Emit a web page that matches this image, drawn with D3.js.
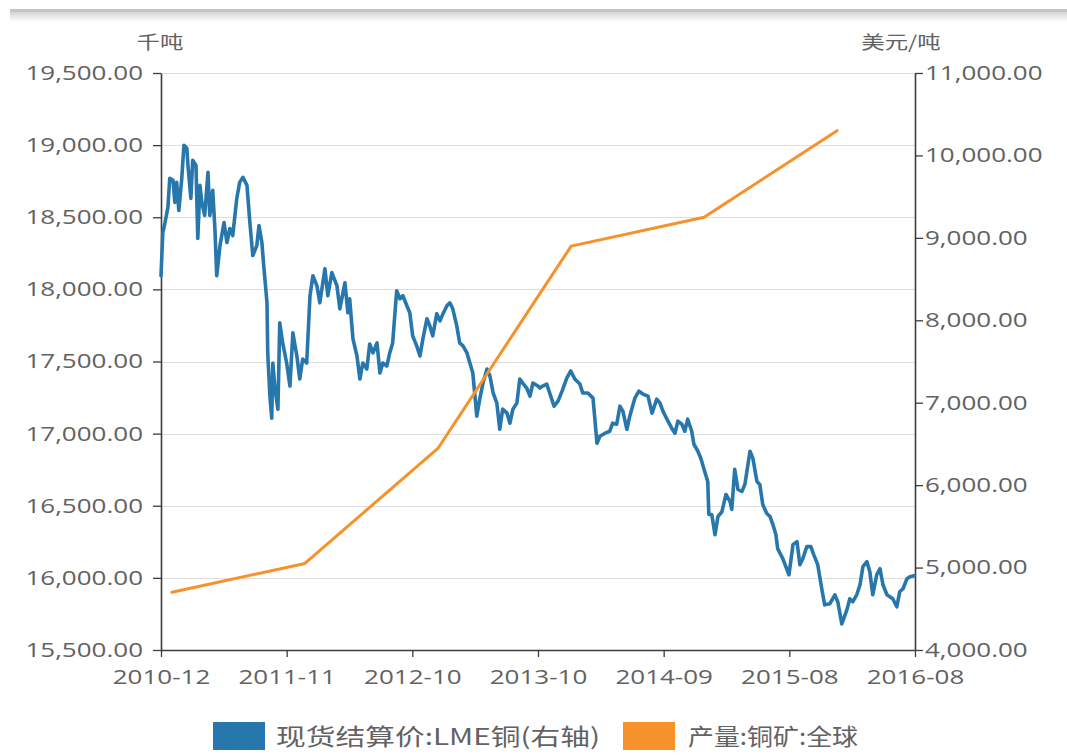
<!DOCTYPE html>
<html>
<head>
<meta charset="utf-8">
<script src="https://cdn.jsdelivr.net/npm/d3@7"></script>
<style>
  html, body { margin: 0; padding: 0; background: #fff; }
  svg { display: block; }
</style>
</head>
<body>
<svg id="chart" width="1067" height="756"></svg>
<script>
// ---- data ----
const leftTicks = [15500, 16000, 16500, 17000, 17500, 18000, 18500, 19000, 19500];
const rightTicks = [4000, 5000, 6000, 7000, 8000, 9000, 10000, 11000];
const xTickLabels = ["2010-12", "2011-11", "2012-10", "2013-10", "2014-09", "2015-08", "2016-08"];

// 产量:铜矿:全球 (千吨), annual
const productionDates = ["2010-12-31", "2011-12-31", "2012-12-31", "2013-12-31", "2014-12-31", "2015-12-31"];
const productionValues = [15900, 16100, 16900, 18300, 18500, 19100];

// 现货结算价:LME铜 (美元/吨)
const priceDates = [
  "2010-12-01","2010-12-06","2010-12-12","2010-12-20","2010-12-25","2011-01-03","2011-01-08","2011-01-13","2011-01-19","2011-01-27",
  "2011-02-02","2011-02-10","2011-02-13","2011-02-21","2011-02-26","2011-03-07","2011-03-12","2011-03-18","2011-03-23","2011-03-31",
  "2011-04-09","2011-04-14","2011-04-22","2011-04-28","2011-05-03","2011-05-12","2011-05-23","2011-05-31","2011-06-08","2011-06-16",
  "2011-06-27","2011-07-05","2011-07-14","2011-07-25","2011-08-02","2011-08-10","2011-08-21","2011-08-27","2011-09-04","2011-09-09",
  "2011-09-18","2011-09-20","2011-09-26","2011-10-01","2011-10-04","2011-10-10","2011-10-18","2011-10-23","2011-10-31","2011-11-11",
  "2011-11-20","2011-11-28","2011-12-09","2011-12-17","2011-12-25","2012-01-05","2012-01-14","2012-01-22","2012-02-02","2012-02-10",
  "2012-02-24","2012-03-03","2012-03-14","2012-03-28","2012-04-05","2012-04-19","2012-04-27","2012-05-02","2012-05-11","2012-05-22",
  "2012-05-30","2012-06-07","2012-06-18","2012-06-26","2012-07-05","2012-07-16","2012-07-24","2012-08-01","2012-08-12","2012-08-20",
  "2012-08-28","2012-09-08","2012-09-17","2012-09-25","2012-10-06","2012-10-14","2012-10-22","2012-11-02","2012-11-11","2012-11-19",
  "2012-11-30","2012-12-08","2012-12-16","2012-12-27","2013-01-05","2013-01-13","2013-01-24","2013-02-01","2013-02-09","2013-02-20",
  "2013-02-28","2013-03-09","2013-03-20","2013-03-28","2013-04-05","2013-04-16","2013-04-24","2013-05-03","2013-05-14","2013-05-22",
  "2013-05-31","2013-06-10","2013-06-18","2013-06-26","2013-07-08","2013-07-16","2013-07-24","2013-08-04","2013-08-12","2013-08-20",
  "2013-08-31","2013-09-09","2013-09-17","2013-10-01","2013-10-06","2013-10-14","2013-10-25","2013-11-03","2013-11-14","2013-11-25",
  "2013-12-06","2013-12-19","2013-12-30","2014-01-10","2014-01-24","2014-02-01","2014-02-15","2014-03-01","2014-03-12","2014-03-20",
  "2014-04-03","2014-04-16","2014-04-24","2014-05-05","2014-05-14","2014-05-22","2014-06-02","2014-06-10","2014-06-24","2014-07-05",
  "2014-07-16","2014-07-30","2014-08-10","2014-08-23","2014-09-01","2014-09-09","2014-09-20","2014-10-03","2014-10-12","2014-10-20",
  "2014-10-31","2014-11-08","2014-11-16","2014-11-27","2014-12-03","2014-12-14","2014-12-22","2014-12-30","2015-01-10","2015-01-13",
  "2015-01-21","2015-01-30","2015-02-07","2015-02-18","2015-03-01","2015-03-12","2015-03-17","2015-03-25","2015-04-03","2015-04-14",
  "2015-04-22","2015-05-06","2015-05-14","2015-05-25","2015-06-02","2015-06-10","2015-06-21","2015-06-30","2015-07-08","2015-07-16",
  "2015-07-21","2015-08-04","2015-08-21","2015-09-01","2015-09-12","2015-09-20","2015-09-28","2015-10-09","2015-10-20","2015-10-28",
  "2015-11-08","2015-11-19","2015-11-27","2015-12-11","2015-12-25","2016-01-02","2016-01-13","2016-01-27","2016-02-04","2016-02-12",
  "2016-02-23","2016-03-03","2016-03-11","2016-03-22","2016-03-30","2016-04-07","2016-04-18","2016-04-27","2016-05-05","2016-05-16",
  "2016-05-24","2016-06-01","2016-06-12","2016-06-20","2016-06-29","2016-07-10","2016-07-18","2016-07-29"
];
const priceValues = [
  8541, 9065, 9186, 9369, 9722, 9698, 9430, 9673, 9332, 9722,
  10124, 10087, 9880, 9478, 9941, 9880, 8992, 9637, 9430, 9272,
  9795, 9272, 9576, 9113, 8541, 8906, 9186, 8943, 9113, 9028,
  9478, 9673, 9734, 9637, 9186, 8785, 8906, 9150, 8943, 8663,
  8212, 7604, 7080, 6812, 7482, 7166, 6922, 7969, 7725, 7482,
  7202, 7847, 7567, 7287, 7531, 7482, 8298, 8541, 8419, 8212,
  8626, 8298, 8578, 8419, 8139, 8456, 8091, 8261, 7774, 7567,
  7287, 7482, 7409, 7713, 7604, 7725, 7360, 7482, 7445, 7604,
  7725, 8358, 8261, 8298, 8176, 8091, 7811, 7689, 7567, 7774,
  8018, 7932, 7811, 8078, 7993, 8078, 8176, 8212, 8139, 7932,
  7725, 7689, 7604, 7482, 7360, 6837, 7044, 7238, 7409, 7324,
  7117, 6995, 6678, 6922, 6873, 6752, 6922, 6995, 7287, 7238,
  7178, 7080, 7238, 7202, 7178, 7202, 7226, 7105, 6958, 7019,
  7141, 7299, 7385, 7287, 7226, 7117, 7117, 7056, 6508, 6593,
  6630, 6654, 6752, 6739, 6958, 6898, 6678, 6837, 7056, 7141,
  7105, 7080, 6873, 7044, 6995, 6898, 6800, 6691, 6630, 6776,
  6739, 6654, 6800, 6654, 6496, 6411, 6325, 6204, 6045, 5644,
  5644, 5400, 5619, 5680, 5887, 5802, 5705, 6192, 5948, 5924,
  6009, 6411, 6325, 6045, 6009, 5765, 5656, 5619, 5522, 5400,
  5230, 5108, 4913, 5278, 5315, 5035, 5108, 5254, 5254, 5157,
  5035, 4743, 4548, 4560, 4670, 4585, 4317, 4487, 4621, 4585,
  4670, 4792, 5011, 5072, 4950, 4670, 4913, 4986, 4792, 4670,
  4645, 4621, 4524, 4706, 4743, 4865, 4889, 4900
];

const legendItems = [
  { name: "现货结算价:LME铜(右轴)", color: "#2777ac" },
  { name: "产量:铜矿:全球", color: "#f7912a" }
];

// ---- layout ----
const plot = { left: 161, right: 915, top: 73, bottom: 650 };
const stretch = 1.3;               // wide glyph look of the labels
const fontNum = "'Open Sans','Noto Sans CJK SC',sans-serif";
const fontCJK = "'Noto Sans CJK SC','Open Sans',sans-serif";
const textColor = "#626262";
const axisColor = "#3c3c3c";

const svg = d3.select("#chart");
const parse = d3.timeParse("%Y-%m-%d");

const x = d3.scaleTime()
  .domain([parse("2010-12-01"), parse("2016-08-01")])
  .range([plot.left, plot.right]);
const yL = d3.scaleLinear().domain([15500, 19500]).range([plot.bottom, plot.top]);
const yR = d3.scaleLinear().domain([4000, 11000]).range([plot.bottom, plot.top]);

// header rule
const defs = svg.append("defs");
const shade = defs.append("linearGradient").attr("id", "headShade")
  .attr("x1", 0).attr("y1", 0).attr("x2", 0).attr("y2", 1);
shade.append("stop").attr("offset", "0%").attr("stop-color", "#d4d4d4");
shade.append("stop").attr("offset", "100%").attr("stop-color", "#ffffff");
svg.append("rect").attr("x", 10).attr("y", 12).attr("width", 1057).attr("height", 10)
  .attr("fill", "url(#headShade)");
svg.append("rect").attr("x", 10).attr("y", 9).attr("width", 1057).attr("height", 3)
  .attr("fill", "#c4c4c4");

// gridlines on the left-axis ticks
svg.append("g").selectAll("line")
  .data(leftTicks.filter(d => d !== 15500))
  .join("line")
  .attr("x1", plot.left).attr("x2", plot.right)
  .attr("y1", d => Math.round(yL(d)) + 0.5).attr("y2", d => Math.round(yL(d)) + 0.5)
  .attr("stroke", "#dedede").attr("stroke-width", 1.2);

// axes
const fmt = d3.format(",.2f");
function styleAxis(g) {
  g.select(".domain").attr("stroke", axisColor).attr("stroke-width", 1.6);
  g.selectAll(".tick line").attr("stroke", axisColor).attr("stroke-width", 1.3);
  g.selectAll(".tick text")
    .attr("fill", textColor)
    .style("font-family", fontNum)
    .style("font-size", "20px");
}

const gLeft = svg.append("g").attr("transform", `translate(${plot.left},0)`)
  .call(d3.axisLeft(yL).tickValues(leftTicks).tickFormat(fmt).tickSize(8).tickSizeOuter(0));
styleAxis(gLeft);
gLeft.selectAll(".tick text").attr("x", -18 / stretch).attr("transform", `scale(${stretch},1)`);

const gRight = svg.append("g").attr("transform", `translate(${plot.right},0)`)
  .call(d3.axisRight(yR).tickValues(rightTicks).tickFormat(fmt).tickSize(8).tickSizeOuter(0));
styleAxis(gRight);
gRight.selectAll(".tick text").attr("x", 10 / stretch).attr("transform", `scale(${stretch},1)`);

// category-style date axis: labels evenly spaced along the plot width
const xTickValues = xTickLabels.map((_, i) =>
  x.invert(plot.left + i * (plot.right - plot.left) / (xTickLabels.length - 1)));
const gBottom = svg.append("g").attr("transform", `translate(0,${plot.bottom})`)
  .call(d3.axisBottom(x).tickValues(xTickValues).tickFormat((d, i) => xTickLabels[i])
    .tickSize(7).tickSizeOuter(0));
styleAxis(gBottom);
gBottom.selectAll(".tick text").attr("y", 20).attr("transform", `scale(${stretch},1)`);

// axis titles
svg.append("text").attr("x", 160 / stretch).attr("y", 49)
  .attr("transform", `scale(${stretch},1)`)
  .attr("text-anchor", "middle").attr("fill", textColor)
  .style("font-family", fontCJK).style("font-size", "18px")
  .text("千吨");
svg.append("text").attr("x", 901 / stretch).attr("y", 49)
  .attr("transform", `scale(${stretch},1)`)
  .attr("text-anchor", "middle").attr("fill", textColor)
  .style("font-family", fontCJK).style("font-size", "18px")
  .text("美元/吨");

// series
const priceData = priceDates.map((d, i) => ({ date: parse(d), value: priceValues[i] }));
const prodData = productionDates.map((d, i) => ({ date: parse(d), value: productionValues[i] }));

svg.append("path").datum(priceData)
  .attr("fill", "none").attr("stroke", legendItems[0].color)
  .attr("stroke-width", 3.6).attr("stroke-linejoin", "round").attr("stroke-linecap", "round")
  .attr("d", d3.line().x(d => x(d.date)).y(d => yR(d.value)));

svg.append("path").datum(prodData)
  .attr("fill", "none").attr("stroke", legendItems[1].color)
  .attr("stroke-width", 3).attr("stroke-linejoin", "round").attr("stroke-linecap", "round")
  .attr("d", d3.line().x(d => x(d.date)).y(d => yL(d.value)));

// legend
const legendPos = [{ sx: 213, tx: 276, tw: 324 }, { sx: 623, tx: 688, tw: 170 }];
const lg = svg.append("g");
legendItems.forEach((item, i) => {
  const p = legendPos[i];
  lg.append("rect").attr("x", p.sx).attr("y", 722).attr("width", 52).attr("height", 28)
    .attr("fill", item.color);
  lg.append("text").attr("x", p.tx).attr("y", 745)
    .attr("fill", textColor)
    .attr("textLength", p.tw).attr("lengthAdjust", "spacingAndGlyphs")
    .style("font-family", fontCJK).style("font-size", "23px")
    .text(item.name);
});
</script>
</body>
</html>
